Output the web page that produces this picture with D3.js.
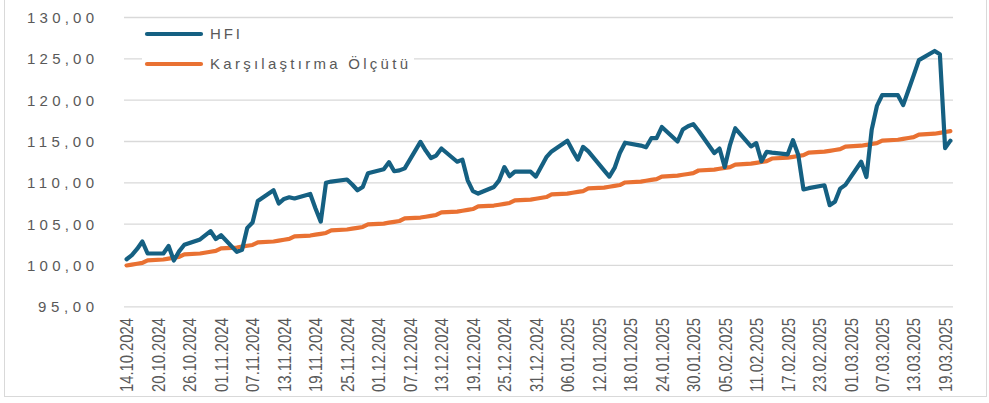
<!DOCTYPE html>
<html>
<head>
<meta charset="utf-8">
<script src="https://cdn.jsdelivr.net/npm/d3@7"></script>
<style>
  html, body { margin: 0; padding: 0; background: #fff; }
  svg { display: block; }
</style>
</head>
<body>
<svg id="chart" width="989" height="403"></svg>
<script>
// Trading days (29.10.2024 and 01.01.2025 are holidays)
const dates = [
  "14.10.2024","15.10.2024","16.10.2024","17.10.2024","18.10.2024","21.10.2024","22.10.2024","23.10.2024","24.10.2024","25.10.2024","28.10.2024","30.10.2024","31.10.2024",
  "01.11.2024","04.11.2024","05.11.2024","06.11.2024","07.11.2024","08.11.2024","11.11.2024","12.11.2024","13.11.2024","14.11.2024","15.11.2024","18.11.2024","19.11.2024","20.11.2024","21.11.2024","22.11.2024","25.11.2024","26.11.2024","27.11.2024","28.11.2024","29.11.2024",
  "02.12.2024","03.12.2024","04.12.2024","05.12.2024","06.12.2024","09.12.2024","10.12.2024","11.12.2024","12.12.2024","13.12.2024","16.12.2024","17.12.2024","18.12.2024","19.12.2024","20.12.2024","23.12.2024","24.12.2024","25.12.2024","26.12.2024","27.12.2024","30.12.2024","31.12.2024",
  "02.01.2025","03.01.2025","06.01.2025","07.01.2025","08.01.2025","09.01.2025","10.01.2025","13.01.2025","14.01.2025","15.01.2025","16.01.2025","17.01.2025","20.01.2025","21.01.2025","22.01.2025","23.01.2025","24.01.2025","27.01.2025","28.01.2025","29.01.2025","30.01.2025","31.01.2025",
  "03.02.2025","04.02.2025","05.02.2025","06.02.2025","07.02.2025","10.02.2025","11.02.2025","12.02.2025","13.02.2025","14.02.2025","17.02.2025","18.02.2025","19.02.2025","20.02.2025","21.02.2025","24.02.2025","25.02.2025","26.02.2025","27.02.2025","28.02.2025",
  "03.03.2025","04.03.2025","05.03.2025","06.03.2025","07.03.2025","10.03.2025","11.03.2025","12.03.2025","13.03.2025","14.03.2025","17.03.2025","18.03.2025","19.03.2025","20.03.2025"
];

// Fund index (HFI)
const hfi = [
  100.75,101.25,102.0,102.9,101.45,101.45,102.35,100.6,101.7,102.5,103.15,104.15,103.2,
  103.65,101.65,101.9,104.55,105.2,107.8,109.1,107.5,108.05,108.25,108.1,108.65,106.9,105.3,110.0,110.15,110.4,109.8,109.1,109.5,111.15,
  111.65,112.5,111.4,111.5,111.75,114.95,113.9,113.0,113.3,114.15,112.55,112.8,110.3,109.0,108.7,109.5,110.3,111.9,110.8,111.35,111.35,110.75,
  113.1,113.8,115.1,113.9,112.8,114.35,113.8,111.5,110.75,111.8,113.6,114.85,114.5,114.3,115.4,115.4,116.75,115.0,116.45,116.85,117.1,116.3,
  113.6,114.15,111.9,114.6,116.6,114.4,114.8,112.6,113.75,113.65,113.45,115.15,113.4,109.2,109.35,109.7,107.3,107.7,109.3,109.75,
  112.55,110.7,116.4,119.3,120.6,120.6,119.4,121.2,123.0,124.85,125.95,125.55,114.2,115.1
];

// Benchmark (Karşılaştırma Ölçütü)
const benchmark = [
  100.00,100.10,100.21,100.31,100.62,100.72,100.83,100.93,101.04,101.35,101.45,101.66,101.76,
  102.07,102.17,102.28,102.38,102.48,102.79,102.90,103.00,103.11,103.21,103.52,103.62,103.73,103.83,103.93,104.24,104.35,104.45,104.55,104.66,104.97,
  105.07,105.18,105.28,105.38,105.69,105.80,105.90,106.00,106.11,106.42,106.52,106.62,106.73,106.83,107.14,107.25,107.35,107.45,107.56,107.87,107.97,108.07,
  108.28,108.59,108.69,108.80,108.90,109.00,109.32,109.42,109.52,109.63,109.73,110.04,110.14,110.25,110.35,110.45,110.76,110.87,110.97,111.07,111.18,111.49,
  111.59,111.70,111.80,111.90,112.21,112.32,112.42,112.52,112.63,112.94,113.04,113.14,113.25,113.35,113.66,113.77,113.87,113.97,114.08,114.39,
  114.49,114.59,114.70,114.80,115.11,115.21,115.32,115.42,115.53,115.84,115.94,116.04,116.15,116.25
];

const xTickLabels = [
  "14.10.2024","20.10.2024","26.10.2024","01.11.2024","07.11.2024","13.11.2024","19.11.2024","25.11.2024","01.12.2024","07.12.2024","13.12.2024","19.12.2024","25.12.2024","31.12.2024",
  "06.01.2025","12.01.2025","18.01.2025","24.01.2025","30.01.2025","05.02.2025","11.02.2025","17.02.2025","23.02.2025","01.03.2025","07.03.2025","13.03.2025","19.03.2025"
];
const yTicks = [95, 100, 105, 110, 115, 120, 125, 130];

const seriesNames = ["HFI", "Karşılaştırma Ölçütü"];
const seriesColors = ["#156082", "#E97132"];

const parse = d3.utcParse("%d.%m.%Y");
const fmt = d3.formatLocale({ decimal: ",", thousands: ".", grouping: [3], currency: ["", ""] }).format(".2f");

const svg = d3.select("#chart");
const plot = { left: 124, right: 953, top: 17.5, bottom: 306.8 };

const dayMs = 864e5;
const first = parse(dates[0]), last = parse(dates[dates.length - 1]);
const x = d3.scaleUtc()
  .domain([new Date(+first - dayMs / 2), new Date(+last + dayMs / 2)])
  .range([plot.left, plot.right]);
const y = d3.scaleLinear().domain([95, 130]).range([plot.bottom, plot.top]);

// outer frame
svg.append("rect")
  .attr("x", 4.5).attr("y", -5).attr("width", 982).attr("height", 401.5)
  .attr("fill", "none").attr("stroke", "#d9d9d9").attr("stroke-width", 1);

// horizontal gridlines
svg.append("g")
  .selectAll("line").data(yTicks).join("line")
  .attr("x1", plot.left).attr("x2", plot.right)
  .attr("y1", d => y(d)).attr("y2", d => y(d))
  .attr("stroke", "#d9d9d9").attr("stroke-width", 1.3);

// y-axis labels
svg.append("g")
  .selectAll("text").data(yTicks).join("text")
  .attr("x", 94).attr("y", d => y(d))
  .attr("dy", "0.36em")
  .attr("text-anchor", "end")
  .attr("font-family", "'Liberation Sans', Arial, sans-serif")
  .attr("font-size", 15)
  .attr("fill", "#595959")
  .attr("textLength", d => d < 100 ? 56 : 67)
  .attr("lengthAdjust", "spacing")
  .text(d => fmt(d));

// x-axis labels (rotated)
svg.append("g")
  .selectAll("text").data(xTickLabels).join("text")
  .attr("transform", d => `translate(${x(parse(d))},318) rotate(-90)`)
  .attr("dy", "0.36em")
  .attr("text-anchor", "end")
  .attr("font-family", "'Liberation Sans Narrow', 'Arial Narrow', 'Liberation Sans', sans-serif")
  .attr("font-size", 19)
  .attr("fill", "#595959")
  .attr("textLength", 74)
  .attr("lengthAdjust", "spacingAndGlyphs")
  .text(d => d);

// series lines
const rows = dates.map((d, i) => ({ date: parse(d), hfi: hfi[i], bench: benchmark[i] }));
const line = key => d3.line().x(d => x(d.date)).y(d => y(d[key]));

svg.append("path").datum(rows)
  .attr("d", line("bench"))
  .attr("fill", "none").attr("stroke", seriesColors[1])
  .attr("stroke-width", 4.2).attr("stroke-linejoin", "round").attr("stroke-linecap", "round");

svg.append("path").datum(rows)
  .attr("d", line("hfi"))
  .attr("fill", "none").attr("stroke", seriesColors[0])
  .attr("stroke-width", 4.2).attr("stroke-linejoin", "round").attr("stroke-linecap", "round");

// legend
const legend = svg.append("g");
legend.append("rect")
  .attr("x", 142).attr("y", 20).attr("width", 272).attr("height", 55)
  .attr("fill", "#fff");
const legendY = [34, 64];
const legendLen = [30, 198];
seriesNames.forEach((name, i) => {
  legend.append("line")
    .attr("x1", 147).attr("x2", 201)
    .attr("y1", legendY[i]).attr("y2", legendY[i])
    .attr("stroke", seriesColors[i]).attr("stroke-width", 4.2).attr("stroke-linecap", "round");
  legend.append("text")
    .attr("x", 210).attr("y", legendY[i])
    .attr("dy", "0.33em")
    .attr("font-family", "'Liberation Sans', Arial, sans-serif")
    .attr("font-size", 15)
    .attr("fill", "#595959")
    .attr("textLength", legendLen[i])
    .attr("lengthAdjust", "spacing")
    .text(name);
});
</script>
</body>
</html>
